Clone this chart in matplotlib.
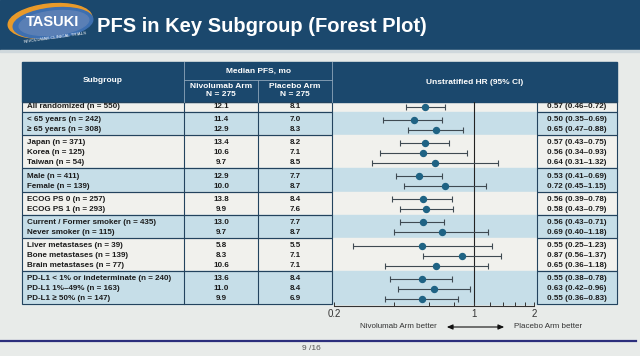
import matplotlib
matplotlib.use("Agg")
import matplotlib.pyplot as plt
from matplotlib.patches import Rectangle, Ellipse
from matplotlib.ticker import FixedLocator, NullFormatter

plt.rcParams['font.family'] = ['Liberation Sans', 'DejaVu Sans']

# Datos de la tabla
groups = [
    ["All randomized (n = 550)"],
    ["< 65 years (n = 242)", "≥ 65 years (n = 308)"],
    ["Japan (n = 371)", "Korea (n = 125)", "Taiwan (n = 54)"],
    ["Male (n = 411)", "Female (n = 139)"],
    ["ECOG PS 0 (n = 257)", "ECOG PS 1 (n = 293)"],
    ["Current / Former smoker (n = 435)", "Never smoker (n = 115)"],
    ["Liver metastases (n = 39)", "Bone metastases (n = 139)", "Brain metastases (n = 77)"],
    ["PD-L1 < 1% or indeterminate (n = 240)", "PD-L1 1%–49% (n = 163)", "PD-L1 ≥ 50% (n = 147)"],
]
nivo_pfs = [12.1, 11.4, 12.9, 13.4, 10.6, 9.7, 12.9, 10.0, 13.8, 9.9,
            13.0, 9.7, 5.8, 8.3, 10.6, 13.6, 11.0, 9.9]
placebo_pfs = [8.1, 7.0, 8.3, 8.2, 7.1, 8.5, 7.7, 8.7, 8.4, 7.6,
               7.7, 8.7, 5.5, 7.1, 7.1, 8.4, 8.4, 6.9]
hr = [0.57, 0.50, 0.65, 0.57, 0.56, 0.64, 0.53, 0.72, 0.56, 0.58,
      0.56, 0.69, 0.55, 0.87, 0.65, 0.55, 0.63, 0.55]
hr_lo = [0.46, 0.35, 0.47, 0.43, 0.34, 0.31, 0.41, 0.45, 0.39, 0.43,
         0.43, 0.40, 0.25, 0.56, 0.36, 0.38, 0.42, 0.36]
hr_hi = [0.72, 0.69, 0.88, 0.75, 0.93, 1.32, 0.69, 1.15, 0.78, 0.79,
         0.71, 1.18, 1.23, 1.37, 1.18, 0.78, 0.96, 0.83]

# Colores
NAVY = '#1b486d'
BG = '#e8ebe9'
LIGHT = '#f1f1ed'
BLUE = '#c6dee8'
BORDER = '#23435e'
DOT = '#1f6384'
TXT = '#1c1c1c'

# Geometría (pixeles)
W, H = 640, 356
X_L, X_N, X_P, X_PL, X_HR, X_R = 22, 184, 258, 332, 537, 617
HEAD_TOP, HEAD_MID, HEAD_BOT = 62, 80, 101.5
ROW_STEP, GROUP_STEP = 10.0, 13.2

fig = plt.figure(figsize=(6.4, 3.56), dpi=100)
fig.patch.set_facecolor(BG)
ax = fig.add_axes([0, 0, 1, 1])
ax.set_xlim(0, W)
ax.set_ylim(H, 0)
ax.axis('off')

# Barra de título
ax.add_patch(Rectangle((0, 0), W, 50, color=NAVY, zorder=1))
ax.add_patch(Rectangle((0, 50), W, 1.5, color='#cfd8dc', zorder=1))
ax.add_patch(Ellipse((50, 21), 84, 34, angle=-6, color='#e89a2a', zorder=2))
ax.add_patch(Ellipse((53, 23), 80, 30, angle=-6, color='#3d6fb0', zorder=2))
ax.add_patch(Ellipse((54, 23), 70, 24, angle=-6, color='#5a7fb5', zorder=2))
ax.text(53, 22, "TASUKI", color='white', fontsize=10.5, fontweight='bold',
        ha='center', va='center', zorder=3)
ax.text(55, 38, "NIVOLUMAB CLINICAL TRIALS", color='white', fontsize=3.2,
        ha='center', va='center', rotation=8, zorder=3)
ax.text(97, 26, "PFS in Key Subgroup (Forest Plot)", color='white',
        fontsize=14.5, fontweight='bold', ha='left', va='center', zorder=3)

# Posiciones de filas
row_y = []
group_bounds = []
y = HEAD_BOT + 5
for g in groups:
    top = y - 5 if not group_bounds else group_bounds[-1][1]
    for i, _ in enumerate(g):
        row_y.append(y)
        y += ROW_STEP
    last = row_y[-1]
    bottom = last + 5.6
    group_bounds.append((top, bottom))
    y = last + GROUP_STEP

# Bandas de fondo
for k, (top, bottom) in enumerate(group_bounds):
    col = LIGHT if k % 2 == 0 else BLUE
    ax.add_patch(Rectangle((X_L, top), X_R - X_L, bottom - top, color=col, zorder=1))
    for x0, x1 in [(X_L, X_PL), (X_HR, X_R)]:
        ax.add_patch(Rectangle((x0, top), x1 - x0, bottom - top, fill=False,
                               edgecolor=BORDER, lw=0.8, zorder=3))
    for xv in [X_N, X_P]:
        ax.plot([xv, xv], [top, bottom], color=BORDER, lw=0.8, zorder=3)

# Cabecera
ax.add_patch(Rectangle((X_L, HEAD_TOP), X_R - X_L, HEAD_BOT - HEAD_TOP, color=NAVY, zorder=2))
hl = dict(color='#8ea6ba', lw=0.6, zorder=3)
ax.plot([X_N, X_N], [HEAD_TOP, HEAD_BOT], **hl)
ax.plot([X_PL, X_PL], [HEAD_TOP, HEAD_BOT], **hl)
ax.plot([X_N, X_PL], [HEAD_MID, HEAD_MID], **hl)
ax.plot([X_P, X_P], [HEAD_MID, HEAD_BOT], **hl)
hd = dict(color='white', fontsize=6, fontweight='bold', ha='center', va='center', zorder=4)
ax.text((X_L + X_N) / 2, 81, "Subgroup", **hd)
ax.text((X_N + X_PL) / 2, 71, "Median PFS, mo", **hd)
ax.text((X_N + X_P) / 2, 90.5, "Nivolumab Arm\nN = 275", linespacing=1.25, **hd)
ax.text((X_P + X_PL) / 2, 90.5, "Placebo Arm\nN = 275", linespacing=1.25, **hd)
ax.text((X_PL + X_R) / 2, 83, "Unstratified HR (95% CI)", **hd)

# Texto de filas
labels = [s for g in groups for s in g]
tx = dict(color=TXT, fontsize=5.8, fontweight='bold', va='center', zorder=4)
for i, yy in enumerate(row_y):
    ax.text(X_L + 5, yy, labels[i], ha='left', **tx)
    ax.text((X_N + X_P) / 2, yy, f"{nivo_pfs[i]:.1f}", ha='center', **tx)
    ax.text((X_P + X_PL) / 2, yy, f"{placebo_pfs[i]:.1f}", ha='center', **tx)
    ax.text((X_HR + X_R) / 2, yy,
            f"{hr[i]:.2f} ({hr_lo[i]:.2f}–{hr_hi[i]:.2f})", ha='center', **tx)

# Forest plot
ax_bot = group_bounds[-1][1] + 1.5
fax = fig.add_axes([334 / W, 1 - ax_bot / H, 200 / W, (ax_bot - HEAD_BOT) / H])
fax.set_facecolor('none')
fax.set_xscale('log')
fax.set_xlim(0.2, 2)
fax.set_ylim(ax_bot, HEAD_BOT)
for s in ['top', 'left', 'right']:
    fax.spines[s].set_visible(False)
fax.spines['bottom'].set_color('#333333')
fax.spines['bottom'].set_linewidth(0.8)
fax.xaxis.set_major_locator(FixedLocator([0.2, 1, 2]))
fax.xaxis.set_minor_locator(FixedLocator([0.4, 0.6, 0.8, 1.2, 1.4, 1.6, 1.8]))
fax.xaxis.set_minor_formatter(NullFormatter())
fax.set_xticklabels(["0.2", "1", "2"])
fax.tick_params(axis='x', which='both', direction='in', length=3, width=0.7,
                colors='#333333', labelsize=7, pad=2)
fax.set_yticks([])
fax.axvline(1, color='#222222', lw=0.8, zorder=1)
xerr = [[h - l for h, l in zip(hr, hr_lo)], [u - h for h, u in zip(hr, hr_hi)]]
fax.errorbar(hr, row_y, xerr=xerr, fmt='o', color=DOT, ecolor='#3f4a52',
             elinewidth=0.8, capsize=2.3, capthick=0.8, markersize=4.3, zorder=3)

# Leyenda inferior
ax.text(398, 327, "Nivolumab Arm better", fontsize=5.8, color='#333333',
        ha='center', va='center')
ax.text(548, 327, "Placebo Arm better", fontsize=5.8, color='#333333',
        ha='center', va='center')
ax.annotate('', xy=(444, 327), xytext=(507, 327),
            arrowprops=dict(arrowstyle='<|-|>,head_length=0.35,head_width=0.15',
                            color='#111111', lw=0.8))

# Pie
ax.plot([0, 636], [341, 341], color='#2c2f7c', lw=1.6)
ax.text(311, 349, "9 /16", fontsize=6, color='#555555', ha='center', va='center')

fig.savefig("out.png", dpi=100, facecolor=BG)
